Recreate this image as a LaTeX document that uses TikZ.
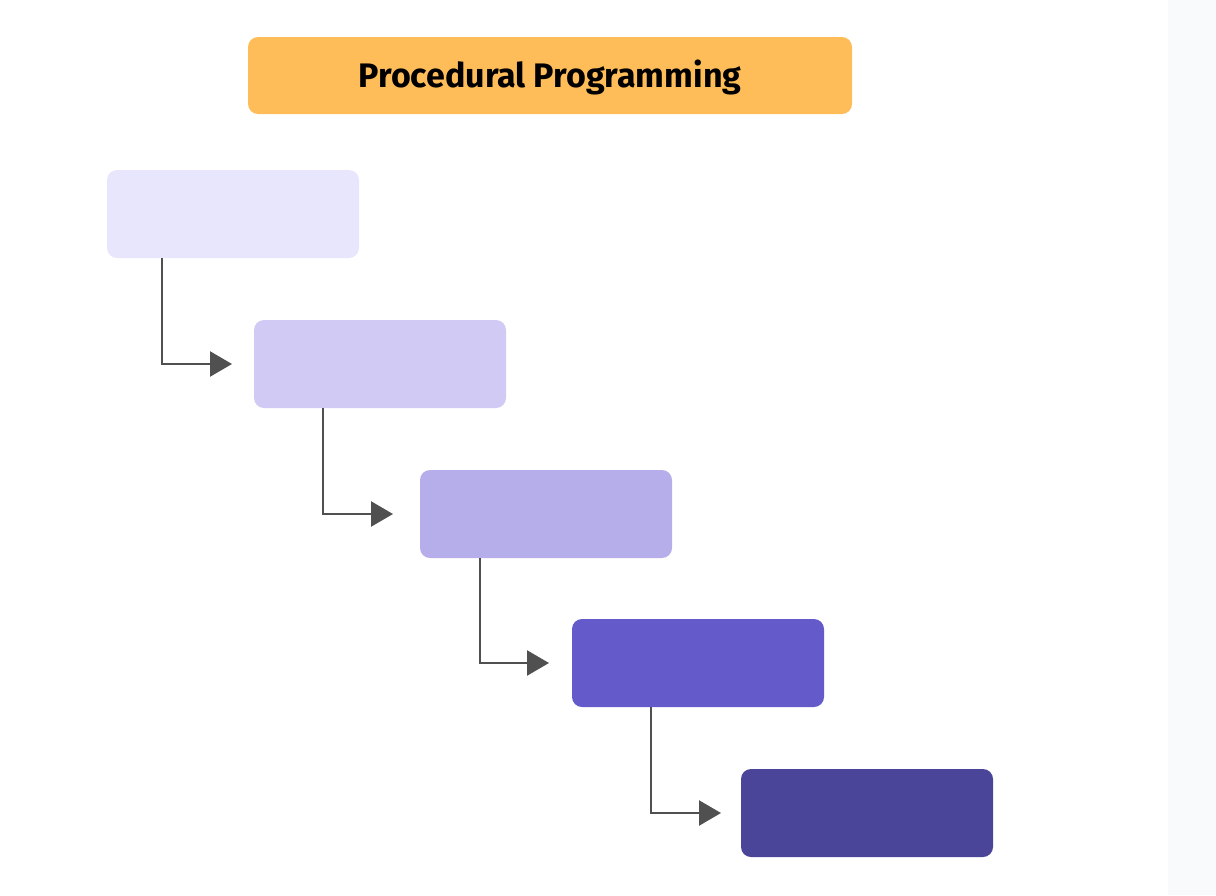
\documentclass[tikz,border=0pt]{standalone}
\usepackage{fontspec}
\setmainfont{Fira Sans}
\usepackage{tikz}
\usetikzlibrary{positioning,arrows.meta}

\definecolor{titlefill}{HTML}{FFBD59}
\definecolor{stagea}{HTML}{E8E6FD}
\definecolor{stageb}{HTML}{D0CAF4}
\definecolor{stagec}{HTML}{B5AEEA}
\definecolor{staged}{HTML}{645ACA}
\definecolor{stagee}{HTML}{4B4599}
\definecolor{linkgray}{HTML}{505050}
\definecolor{sidestrip}{HTML}{F9FAFC}

\tikzset{
  stage/.style={rectangle,rounded corners=10pt,minimum width=252pt,minimum height=88pt,inner sep=0pt,outer sep=0pt},
  flow/.style={draw=linkgray,line width=2.5pt,-{Triangle[length=22pt,width=25pt]}}
}

\begin{document}
\begin{tikzpicture}[x=1pt,y=1pt]
                \useasboundingbox (0,0) rectangle (1216,-895);
                \fill[sidestrip] (1168,0) rectangle (1216,-895);
                \node[rectangle,rounded corners=10pt,fill=titlefill,minimum width=604pt,minimum height=77pt,
                      font=\fontsize{34}{38}\selectfont\bfseries] (title) at (550,-75.5) {};
                \node (titletext) at ([yshift=-2pt]title.center) {\fontsize{34}{38}\selectfont\bfseries Procedural Programming};
                \node[stage,fill=stagea,anchor=north west] (a) at (107,-170) {};
                \node[stage,fill=stageb] (b)[below right=62pt and -105pt of a] {};
                \node[stage,fill=stagec] (c)[below right=62pt and -86pt of b] {};
                \node[stage,fill=staged] (d)[below right=61pt and -100pt of c] {};
                \node[stage,fill=stagee] (e)[below right=62pt and -83pt of d] {};
                \draw[flow] ([xshift=55pt]a.south west) |- ([xshift=-22pt]b.west);
                \draw[flow] ([xshift=69pt]b.south west) |- ([xshift=-27pt]c.west);
                \draw[flow] ([xshift=60pt]c.south west) |- ([xshift=-23pt]d.west);
                \draw[flow] ([xshift=79pt]d.south west) |- ([xshift=-20pt]e.west);
            \end{tikzpicture}
\end{document}
